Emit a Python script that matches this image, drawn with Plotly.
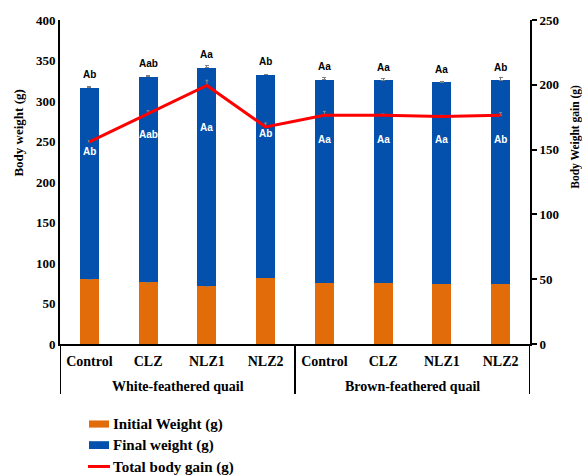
import plotly.graph_objects as go

categories = ["Control", "CLZ", "NLZ1", "NLZ2", "Control", "CLZ", "NLZ1", "NLZ2"]
groups = ["White-feathered quail", "Brown-feathered quail"]
initial_weight = [80, 76, 71, 82, 75.5, 75.5, 74.5, 74.5]
initial_err = [1, 2, 1, 1, 1, 1, 1, 1]
bar_top = [316.5, 330, 341, 332.5, 326.5, 325.5, 323, 325.5]
final_err = [1, 2, 2.5, 0.5, 2, 2, 1.5, 3]
final_weight = [t - i for t, i in zip(bar_top, initial_weight)]
total_gain = [156, 178, 199.5, 167.5, 176.5, 176.5, 175.5, 176.5]
gain_err = [1, 2, 4, 3, 3, 1, 1, 2]
top_labels = ["Ab", "Aab", "Aa", "Ab", "Aa", "Aa", "Aa", "Ab"]
inner_labels = ["Ab", "Aab", "Aa", "Ab", "Aa", "Aa", "Aa", "Ab"]
inner_label_y = [238, 259, 267, 260, 253, 253, 253, 253]
series_names = ["Initial Weight (g)", "Final weight (g)", "Total body gain (g)"]
colors = ["#E26B0A", "#0350AD", "#FF0000"]

x = list(range(len(categories)))
serif = "Liberation Serif"
sans = "Liberation Sans"

fig = go.Figure()
fig.add_trace(go.Bar(
    x=x, y=initial_weight, name=series_names[0], showlegend=False,
    marker=dict(color=colors[0], line=dict(width=0)), width=0.32,
    error_y=dict(type="data", array=initial_err, symmetric=False, arrayminus=[0]*8,
                 color="#7f7f7f", thickness=1, width=2),
))
fig.add_trace(go.Bar(
    x=x, y=final_weight, name=series_names[1], showlegend=False,
    marker=dict(color=colors[1], line=dict(width=0)), width=0.32,
    error_y=dict(type="data", array=final_err, symmetric=False, arrayminus=[0]*8,
                 color="#7f7f7f", thickness=1, width=2),
))
fig.add_trace(go.Scatter(
    x=x, y=total_gain, name=series_names[2], yaxis="y2", mode="lines", showlegend=False,
    line=dict(color=colors[2], width=3),
    error_y=dict(type="data", array=gain_err, symmetric=False, arrayminus=[0]*8,
                 color="#8f8f8f", thickness=1, width=1.5),
))

annotations = []
for xi, t, lab in zip(x, bar_top, top_labels):
    annotations.append(dict(x=xi, y=t, xref="x", yref="y", text=lab, showarrow=False,
                            yshift=13, yanchor="middle",
                            font=dict(family=sans, size=10, color="black", weight="bold")))
for xi, yy, lab in zip(x, inner_label_y, inner_labels):
    annotations.append(dict(x=xi, y=yy, xref="x", yref="y", text=lab, showarrow=False,
                            yanchor="middle",
                            font=dict(family=sans, size=10, color="white", weight="bold")))
for gx, g in zip([1.5, 5.5], groups):
    annotations.append(dict(x=gx, y=-0.13, xref="x", yref="paper", text=g, showarrow=False,
                            xanchor="center", yanchor="middle",
                            font=dict(family=serif, size=14, color="black", weight="bold")))
# axis titles
annotations.append(dict(x=-0.089, y=0.65, xref="paper", yref="paper", text="Body weight (g)",
                        textangle=-90, showarrow=False, xanchor="center", yanchor="middle",
                        font=dict(family=serif, size=13, color="black", weight="bold")))
annotations.append(dict(x=1.098, y=0.64, xref="paper", yref="paper", text="Body Weight gain (g)",
                        textangle=-90, showarrow=False, xanchor="center", yanchor="middle",
                        font=dict(family=serif, size=11.5, color="black", weight="bold")))

shapes = []
for xs in [-0.5, 3.5, 7.5]:
    shapes.append(dict(type="line", xref="x", yref="paper", x0=xs, x1=xs, y0=0, y1=-0.154,
                       line=dict(color="black", width=2)))

# custom legend
leg_y = [-0.247, -0.312, -0.380]
shapes.append(dict(type="rect", xref="paper", yref="paper", x0=0.0617, x1=0.1043,
                   y0=leg_y[0] - 0.011, y1=leg_y[0] + 0.011, line=dict(width=0),
                   fillcolor=colors[0]))
shapes.append(dict(type="rect", xref="paper", yref="paper", x0=0.0617, x1=0.1043,
                   y0=leg_y[1] - 0.012, y1=leg_y[1] + 0.012, line=dict(width=0),
                   fillcolor=colors[1]))
shapes.append(dict(type="line", xref="paper", yref="paper", x0=0.0596, x1=0.1064,
                   y0=leg_y[2] + 0.002, y1=leg_y[2] + 0.002, line=dict(color=colors[2], width=3)))
for name, ly in zip(series_names, leg_y):
    annotations.append(dict(x=0.1085, y=ly, xref="paper", yref="paper", text=name,
                            showarrow=False, xanchor="left", yanchor="middle",
                            font=dict(family=serif, size=15, color="black", weight="bold")))

fig.update_layout(
    width=582, height=475,
    margin=dict(l=60, r=52, t=20, b=131, autoexpand=False),
    plot_bgcolor="white", paper_bgcolor="white",
    barmode="stack", bargap=0.68,
    showlegend=False,
    xaxis=dict(range=[-0.5, 7.5], tickmode="array", tickvals=x, ticktext=categories,
               showline=True, linecolor="black", linewidth=2, ticks="", showgrid=False,
               zeroline=False, automargin=False, ticklabelstandoff=3,
               tickfont=dict(family=serif, size=14, color="black", weight="bold")),
    yaxis=dict(range=[0, 400], dtick=50, showline=True, linecolor="black", linewidth=2,
               ticks="", showgrid=False, zeroline=False, automargin=False,
               tickfont=dict(family=serif, size=13, color="black", weight="bold")),
    yaxis2=dict(range=[0, 250], dtick=50, overlaying="y", side="right", showline=True,
                linecolor="black", linewidth=2, ticks="outside", ticklen=5, tickwidth=2,
                tickcolor="black", showgrid=False, zeroline=False, automargin=False,
                tickfont=dict(family=serif, size=13, color="black", weight="bold")),
    annotations=annotations, shapes=shapes,
)

post_js = ("document.body.style.margin='0';document.body.style.overflow='hidden';"
           "document.documentElement.style.overflow='hidden';")
fig.write_html("out.html", post_script=post_js, config={"displayModeBar": False})
